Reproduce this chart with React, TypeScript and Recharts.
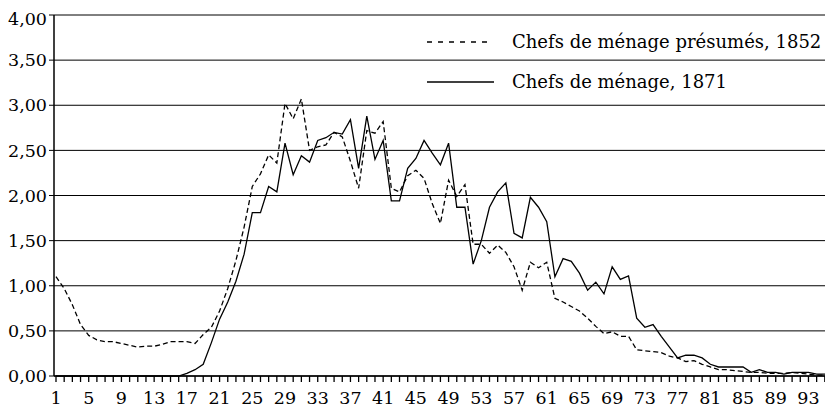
import { CartesianGrid, Line, LineChart, XAxis, YAxis } from "recharts";

// Âges 1 à 96 (catégories de l'axe horizontal)
const AGES = Array.from({ length: 96 }, (_, i) => i + 1);

// Chefs de ménage présumés, 1852 (pointillés)
const PRESUMES_1852 = [
  1.1, 0.97, 0.79, 0.57, 0.45, 0.4, 0.38, 0.38, 0.36, 0.34, 0.32, 0.33, 0.33,
  0.35, 0.38, 0.38, 0.38, 0.36, 0.46, 0.54, 0.72, 0.97, 1.28, 1.65, 2.1, 2.24,
  2.45, 2.36, 3.02, 2.85, 3.07, 2.5, 2.54, 2.56, 2.7, 2.65, 2.38, 2.08, 2.72,
  2.69, 2.82, 2.08, 2.04, 2.22, 2.28, 2.19, 1.91, 1.69, 2.17, 1.99, 2.12, 1.46,
  1.46, 1.36, 1.45, 1.37, 1.21, 0.95, 1.26, 1.2, 1.26, 0.86, 0.82, 0.77, 0.72,
  0.64, 0.55, 0.47, 0.49, 0.44, 0.44, 0.29, 0.28, 0.27, 0.26, 0.22, 0.2, 0.16,
  0.17, 0.13, 0.1, 0.07, 0.07, 0.06, 0.05, 0.04, 0.04, 0.03, 0.03, 0.03, 0.04,
  0.03, 0.02, 0.01, 0.01, 0.01,
];

// Chefs de ménage, 1871 (trait plein)
const CHEFS_1871 = [
  0, 0, 0, 0, 0, 0, 0, 0, 0, 0, 0, 0, 0, 0, 0, 0, 0.03, 0.07, 0.13, 0.37, 0.63,
  0.82, 1.05, 1.35, 1.81, 1.81, 2.1, 2.04, 2.58, 2.23, 2.44, 2.37, 2.61, 2.64,
  2.7, 2.68, 2.84, 2.3, 2.88, 2.4, 2.61, 1.94, 1.94, 2.3, 2.41, 2.61, 2.47,
  2.34, 2.58, 1.87, 1.87, 1.24, 1.5, 1.87, 2.04, 2.14, 1.58, 1.53, 1.98, 1.87,
  1.71, 1.1, 1.3, 1.27, 1.14, 0.95, 1.04, 0.91, 1.21, 1.07, 1.11, 0.64, 0.54,
  0.57, 0.44, 0.32, 0.2, 0.23, 0.23, 0.2, 0.13, 0.1, 0.1, 0.1, 0.1, 0.04, 0.07,
  0.04, 0.04, 0.02, 0.04, 0.04, 0.04, 0.02, 0.02, 0.02,
];

const Y_TICKS = [0, 0.5, 1, 1.5, 2, 2.5, 3, 3.5, 4];

const LABEL_1852 = "Chefs de ménage présumés, 1852";
const LABEL_1871 = "Chefs de ménage, 1871";

const FONT = "'DejaVu Serif', serif";

const data = AGES.map((age, i) => ({
  age,
  p1852: PRESUMES_1852[i],
  c1871: CHEFS_1871[i],
}));

const fmt = (v: number) => v.toFixed(2).replace(".", ",");

function AgeTick({ x, y, payload }: any) {
  if ((payload.value - 1) % 4 !== 0) return null;
  return (
    <text
      x={x}
      y={y}
      dy="0.71em"
      textAnchor="middle"
      fontFamily={FONT}
      fontSize={17.5}
      fill="#000"
    >
      {payload.value}
    </text>
  );
}

function LegendRow({ dashed, label, top }: { dashed: boolean; label: string; top: number }) {
  return (
    <div
      style={{
        position: "absolute",
        left: 419,
        top,
        display: "flex",
        alignItems: "center",
        height: 24,
      }}
    >
      <svg width={68} height={24} style={{ display: "block" }}>
        <line
          x1={0}
          y1={12}
          x2={dashed ? 64 : 67}
          y2={12}
          stroke="#000"
          strokeWidth={1.3}
          strokeDasharray={dashed ? "5 6" : undefined}
        />
      </svg>
      <span
        style={{
          marginLeft: 17,
          fontFamily: FONT,
          fontSize: 18,
          color: "#000",
          whiteSpace: "nowrap",
          lineHeight: "24px",
        }}
      >
        {label}
      </span>
    </div>
  );
}

export default function App() {
  return (
    <div style={{ position: "relative", width: 825, height: 402 }}>
      <LineChart
        width={825}
        height={402}
        data={data}
        margin={{ top: 7, right: 0, bottom: 0, left: 0 }}
      >
        <CartesianGrid vertical={false} stroke="#000" strokeWidth={1} />
        <XAxis
          dataKey="age"
          interval={0}
          tick={<AgeTick />}
          tickSize={6}
          tickMargin={10}
          height={34}
          padding={{ left: 2, right: 0 }}
          axisLine={{ stroke: "#000", strokeWidth: 1.5 }}
          tickLine={{ stroke: "#000", strokeWidth: 1.3 }}
        />
        <YAxis
          domain={[0, 4]}
          ticks={Y_TICKS}
          tickFormatter={fmt}
          width={46}
          tickSize={5}
          tickMargin={2}
          axisLine={{ stroke: "#000", strokeWidth: 1.5 }}
          tickLine={{ stroke: "#000" }}
          tick={{ fontFamily: FONT, fontSize: 17.5, fill: "#000" }}
        />
        <Line
          dataKey="p1852"
          type="linear"
          stroke="#000"
          strokeWidth={1.3}
          strokeDasharray="5 3"
          dot={false}
          isAnimationActive={false}
        />
        <Line
          dataKey="c1871"
          type="linear"
          stroke="#000"
          strokeWidth={1.3}
          dot={false}
          isAnimationActive={false}
        />
      </LineChart>
      <LegendRow dashed label={LABEL_1852} top={22} />
      <LegendRow dashed={false} label={LABEL_1871} top={62} />
    </div>
  );
}
